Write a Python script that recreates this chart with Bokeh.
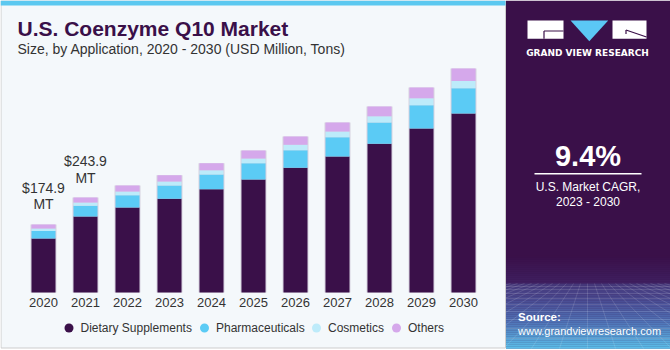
from bokeh.plotting import figure
from bokeh.models import ColumnDataSource, Range1d
from bokeh.core.properties import value
from bokeh.embed import file_html
from bokeh.resources import INLINE

# ---------------- data ----------------
years = ["2020", "2021", "2022", "2023", "2024", "2025", "2026", "2027", "2028", "2029", "2030"]
dietary = [138.5, 195.5, 218.5, 240.8, 265.5, 290.4, 320.5, 349.5, 382.1, 421.5, 460.0]
pharmaceuticals = [19.6, 27.4, 31.6, 34.2, 37.8, 41.9, 45.2, 49.6, 54.7, 59.9, 65.0]
cosmetics = [6.4, 8.1, 9.5, 10.3, 11.1, 12.1, 13.9, 14.6, 16.2, 18.0, 18.8]
others = [10.4, 12.9, 15.4, 16.2, 18.0, 20.6, 21.3, 23.1, 24.9, 27.5, 31.9]
series_names = ["Dietary Supplements", "Pharmaceuticals", "Cosmetics", "Others"]
annot_years = ["2020", "2021"]
annot_values = ["$174.9", "$243.9"]
annot_unit = "MT"
title = "U.S. Coenzyme Q10 Market"
subtitle = "Size, by Application, 2020 - 2030 (USD Million, Tons)"
cagr_value = "9.4%"
cagr_lines = ["U.S. Market CAGR,", "2023 - 2030"]
brand = "GRAND VIEW RESEARCH"
source_lines = ["Source:", "www.grandviewresearch.com"]

# ---------------- layout / style ----------------
W, H = 670, 350
BASE_PX = 292.0        # pixel row of value 0
UNITS_PER_PX = 2.57
X0_PX, STEP_PX, BAR_PX = 43.0, 42.0, 24.0
PANEL_X = 505.5
COLORS = ["#3A1049", "#5BCBF5", "#BDEBFA", "#D5A8EB"]
FONT = value("Liberation Sans")
TXT = "#333333"
PURPLE = "#3A1049"

p = figure(width=W, height=H, x_range=Range1d(0, W), y_range=Range1d(H, 0),
           min_border=0, toolbar_location=None, output_backend="svg",
           x_axis_location=None, y_axis_location=None)
p.grid.visible = False
p.outline_line_color = None
p.background_fill_color = "white"
p.border_fill_color = "white"

first_year = int(years[0])
p.extra_x_ranges = {"yr": Range1d(start=first_year - X0_PX / STEP_PX,
                                  end=first_year + (W - X0_PX) / STEP_PX)}
p.extra_y_ranges = {"v": Range1d(start=-(H - BASE_PX) * UNITS_PER_PX,
                                 end=BASE_PX * UNITS_PER_PX)}

# ---------- right panel ----------
p.quad(left=[PANEL_X], right=[W], top=[0], bottom=[348], fill_color=PURPLE, line_color=None)


def hex2rgb(h):
    h = h.lstrip("#")
    return tuple(int(h[i:i + 2], 16) for i in (0, 2, 4))


def mix(c1, c2, t):
    a, b = hex2rgb(c1), hex2rgb(c2)
    return "#%02x%02x%02x" % tuple(int(round(a[i] + (b[i] - a[i]) * t)) for i in range(3))


# gradient above horizon
bands_top, bands_bot, bands_col = [], [], []
n = 14
for i in range(n):
    y0 = 255 + i * 2
    bands_top.append(y0)
    bands_bot.append(y0 + 2.2)
    bands_col.append(mix(PURPLE, "#3F1F60", i / (n - 1)))
# gradient below horizon
stops = [(283, "#453779"), (300, "#4A4E95"), (320, "#4F72B6"), (348, "#5CC2EC")]
for k in range(len(stops) - 1):
    (ya, ca), (yb, cb) = stops[k], stops[k + 1]
    steps = int((yb - ya) / 2)
    for i in range(steps):
        y0 = ya + (yb - ya) * i / steps
        bands_top.append(y0)
        bands_bot.append(y0 + (yb - ya) / steps + 0.3)
        bands_col.append(mix(ca, cb, i / steps))
p.quad(left=PANEL_X, right=W, top=bands_top, bottom=bands_bot, fill_color=bands_col, line_color=None)

# grid texture
hy = [286, 289, 293, 298, 304, 311, 319, 328, 338]
p.segment(x0=PANEL_X, x1=W, y0=hy, y1=hy, line_color="white", line_alpha=0.13, line_width=1)
vx0, vx1, vy0, vy1 = [], [], [], []
for i in range(-14, 15):
    xt = 587 + i * 7
    xb = 587 + i * 7 * 4.0
    vx0.append(xt); vx1.append(xb); vy0.append(283); vy1.append(348)
p.segment(x0=vx0, x1=vx1, y0=vy0, y1=vy1, line_color="white", line_alpha=0.13, line_width=1)

# ---------- left panel ----------
p.quad(left=[0], right=[PANEL_X], top=[0], bottom=[350], fill_color="white", line_color=None)
p.quad(left=[0.5], right=[PANEL_X - 0.5], top=[0.5], bottom=[347.5],
       fill_color="#F4F8FB", line_color="#CDCDCD", line_width=1)
p.quad(left=[0], right=[PANEL_X - 0.5], top=[0], bottom=[5], fill_color="#5BC8F0", line_color=None)

# ---------- titles ----------
p.text(x=[17], y=[28.4], text=[title], text_font=FONT, text_font_size="21px",
       text_font_style="bold", text_color=PURPLE, text_baseline="middle")
p.text(x=[17], y=[48], text=[subtitle], text_font=FONT, text_font_size="14px",
       text_color=TXT, text_baseline="middle")

# ---------- bars ----------
xs = [int(y) for y in years]
totals = [a + b + c + d for a, b, c, d in zip(dietary, pharmaceuticals, cosmetics, others)]
keys = ["dietary", "pharmaceuticals", "cosmetics", "others"]
src = ColumnDataSource(dict(x=xs, year=years, dietary=dietary, pharmaceuticals=pharmaceuticals,
                            cosmetics=cosmetics, others=others, total=totals))
p.vbar(x="x", top="total", bottom=0, width=(BAR_PX + 2) / STEP_PX, source=src,
       fill_color="#D6D1E0", line_color=None, x_range_name="yr", y_range_name="v")
p.vbar_stack(keys, x="x", width=BAR_PX / STEP_PX, source=src, fill_color=COLORS,
             line_color=None, x_range_name="yr", y_range_name="v")

# year labels
p.text(x="x", y=0, text="year", source=src, x_range_name="yr", y_range_name="v",
       y_offset=10, text_font=FONT, text_font_size="13px", text_color=TXT,
       text_align="center", text_baseline="middle")

# value annotations
ann_x = [int(y) for y in annot_years]
ann_tot = [totals[years.index(y)] for y in annot_years]
p.text(x=ann_x, y=ann_tot, text=[annot_unit] * len(ann_x), x_range_name="yr", y_range_name="v",
       y_offset=-20, text_font=FONT, text_font_size="14px", text_color=TXT,
       text_align="center", text_baseline="middle")
p.text(x=ann_x, y=ann_tot, text=annot_values, x_range_name="yr", y_range_name="v",
       y_offset=-36.8, text_font=FONT, text_font_size="14px", text_color=TXT,
       text_align="center", text_baseline="middle")

# ---------- legend ----------
LEG_X = [68.5, 204, 316, 396]
LEG_Y = 327.5
p.scatter(x=LEG_X, y=[LEG_Y] * 4, size=9, marker="circle", fill_color=COLORS, line_color=None)
p.text(x=[x + 11.5 for x in LEG_X], y=[LEG_Y] * 4, text=series_names, text_font=FONT,
       text_font_size="12px", text_color=TXT, text_baseline="middle")

# ---------- logo ----------
p.quad(left=[527, 612], right=[563, 646], top=[20, 20], bottom=[38.3, 38.3],
       fill_color="white", line_color=None)
p.segment(x0=[543.5, 543.5], x1=[563, 543.5], y0=[30.5, 30.5], y1=[30.5, 38.3],
          line_color=PURPLE, line_width=1.2)
p.segment(x0=[625.5, 625.5], x1=[646, 625.5], y0=[29.5, 29.5], y1=[36.5, 33.5],
          line_color=PURPLE, line_width=1.2)
p.patch(x=[570, 607.7, 588.8], y=[20, 20, 40.7], fill_color="#5BC8F5", line_color=None)
p.text(x=[587], y=[52.2], text=[brand], text_font=value("DejaVu Sans"), text_font_size="9px",
       text_font_style="bold", text_color="white", text_align="center", text_baseline="middle")

# ---------- CAGR ----------
p.text(x=[587.5], y=[155.5], text=[cagr_value], text_font=FONT, text_font_size="29px",
       text_font_style="bold", text_color="white", text_align="center", text_baseline="middle")
p.segment(x0=[534], x1=[641], y0=[173.3], y1=[173.3], line_color="white", line_width=1.5)
p.text(x=[587.5, 587.5], y=[186.6, 201.8], text=cagr_lines, text_font=FONT, text_font_size="12px",
       text_color="white", text_align="center", text_baseline="middle")

# ---------- source ----------
p.text(x=[517.5], y=[316], text=[source_lines[0]], text_font=FONT, text_font_size="11.5px",
       text_font_style="bold", text_color="white", text_baseline="middle")
p.text(x=[517.5], y=[330], text=[source_lines[1]], text_font=FONT, text_font_size="11px",
       text_color="white", text_baseline="middle")

open("out.html", "w").write(file_html(p, INLINE))
